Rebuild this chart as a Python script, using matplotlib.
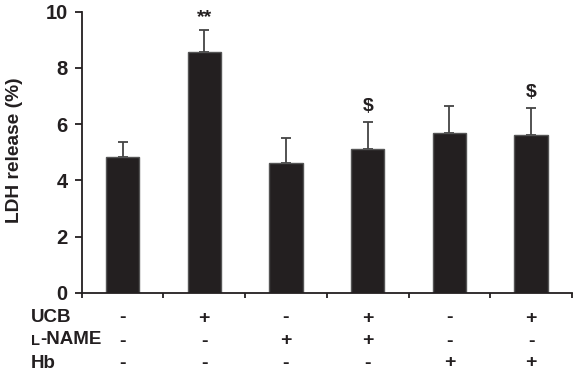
import numpy as np
import matplotlib
matplotlib.use("Agg")
import matplotlib.pyplot as plt

plt.rcParams['font.family'] = ['Liberation Sans', 'DejaVu Sans']
plt.rcParams['font.weight'] = 'bold'

# values
means = [4.83, 8.58, 4.60, 5.13, 5.70, 5.61]
sem = [0.53, 0.77, 0.92, 0.95, 0.94, 0.95]
marks = ['', '**', '', '$', '', '$']
ucb = ['-', '+', '-', '+', '-', '+']
lname = ['-', '-', '+', '+', '-', '-']
hb = ['-', '-', '-', '-', '+', '+']

ink = '#231f20'
W, H = 579, 375
fig = plt.figure(figsize=(W / 100, H / 100), dpi=100)
ax_box = [81.7 / W, 1 - 292.7 / H, (572 - 81.7) / W, (292.7 - 11.7) / H]
ax = fig.add_axes(ax_box)

x = np.arange(1, len(means) + 1)
ax.bar(x, means, width=0.41, color=ink, edgecolor='#555555', linewidth=1, zorder=2)
ax.errorbar(x, means, yerr=[np.zeros(len(sem)), sem], fmt='none', ecolor='#444444',
            elinewidth=1.3, capsize=3.5, capthick=1.3, zorder=1)

for xi, m, s, t in zip(x, means, sem, marks):
    if t:
        off = 0.45 if t == '**' else 0.55
        ax.text(xi, m + s + off, t, ha='center', va='center', fontsize=14,
                fontweight='bold', color=ink)

ax.set_xlim(0.5, len(means) + 0.5)
ax.set_ylim(0, 10)
ax.set_yticks([0, 2, 4, 6, 8, 10])
ax.set_xticks(np.arange(0.5, len(means) + 1, 1))
ax.set_xticklabels([])
ax.tick_params(axis='y', labelsize=14.5, length=5, width=1.3, colors=ink, pad=5)
ax.tick_params(axis='x', length=3.5, width=1.3, colors=ink)
for lab in ax.get_yticklabels():
    lab.set_fontweight('bold')
ax.spines['top'].set_visible(False)
ax.spines['right'].set_visible(False)
for sp in ['left', 'bottom']:
    ax.spines[sp].set_linewidth(1.3)
    ax.spines[sp].set_color(ink)

fig.text(15 / W, 1 - 150 / H, 'LDH release (%)', rotation=90, ha='center', va='center',
         fontsize=13.8, fontweight='bold', color=ink)

# treatment table below the axis
fy = lambda py: 1 - py / H
rows_y = [318, 341, 363]
for ry, vals in zip(rows_y, [ucb, lname, hb]):
    yy = (fy(ry) - ax_box[1]) / ax_box[3]
    for xi, v in zip(x, vals):
        ax.text(xi, yy, v, transform=ax.get_xaxis_transform(), ha='center', va='center',
                fontsize=14, fontweight='bold', color=ink)

fig.text(31 / W, fy(318), 'UCB', ha='left', va='center', fontsize=13.5, fontweight='bold', color=ink)
tl = fig.text(31 / W, fy(341), 'L', ha='left', va='center', fontsize=10.5, fontweight='bold', color=ink)
fig.canvas.draw()
ax.annotate('-NAME', xy=(1, 0), xycoords=tl, xytext=(0, 0), textcoords='offset points',
            ha='left', va='bottom', fontsize=13.5, fontweight='bold', color=ink)
fig.text(31 / W, fy(363), 'Hb', ha='left', va='center', fontsize=13.5, fontweight='bold', color=ink)

fig.savefig('out.png', dpi=100)
